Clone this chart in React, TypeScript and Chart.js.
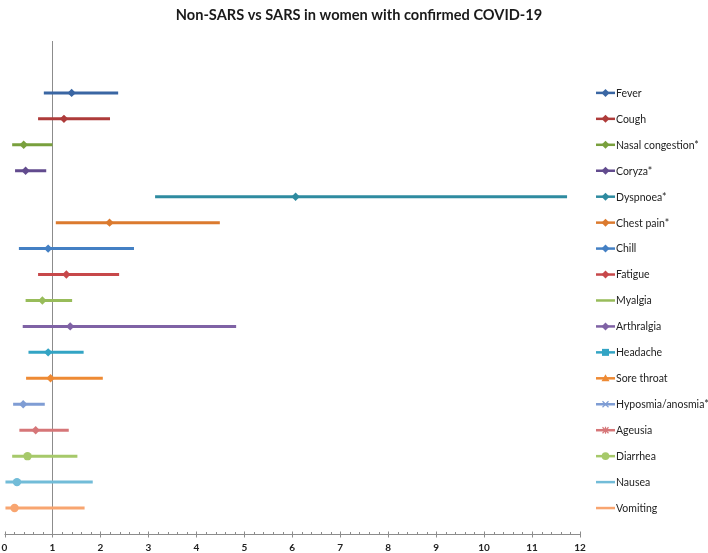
import React, { useEffect, useRef } from "react";
import { Chart, registerables } from "chart.js";

Chart.register(...registerables);

const symptoms = [
  "Fever", "Cough", "Nasal congestion*", "Coryza*", "Dyspnoea*", "Chest pain*", "Chill", "Fatigue",
  "Myalgia", "Arthralgia", "Headache", "Sore throat", "Hyposmia/anosmia*", "Ageusia", "Diarrhea", "Nausea", "Vomiting",
];
const estimates = [1.4, 1.24, 0.4, 0.44, 6.07, 2.19, 0.91, 1.29, 0.79, 1.37, 0.91, 0.96, 0.39, 0.65, 0.48, 0.26, 0.21];
const lower = [0.82, 0.7, 0.16, 0.22, 3.14, 1.07, 0.3, 0.7, 0.44, 0.38, 0.5, 0.45, 0.18, 0.31, 0.16, 0.02, 0.02];
const upper = [2.37, 2.2, 1.0, 0.87, 11.73, 4.49, 2.7, 2.39, 1.41, 4.83, 1.65, 2.05, 0.84, 1.34, 1.52, 1.84, 1.67];
const rowPos = [17, 16, 15, 14, 13, 12, 11, 10, 9, 8, 7, 6, 5, 4, 3, 2, 1];
const colors = [
  "#3A66A3", "#AE3B3A", "#79A03D", "#624B8E", "#2E8BA0", "#DB7A2E", "#4480C4", "#C7484A",
  "#98BC5A", "#7F62A5", "#33A4C4", "#EE8A34", "#7F9DD4", "#D67678", "#A6C96A", "#72BCD8", "#F8A570",
];
const legendMarkers = [
  "diamond", "diamond", "diamond", "diamond", "diamond", "diamond", "diamond", "diamond",
  "none", "diamond", "square", "triangle", "x", "star", "circle", "none", "none",
];
const xTicks = [0, 1, 2, 3, 4, 5, 6, 7, 8, 9, 10, 11, 12];
const title = "Non-SARS vs SARS in women with confirmed COVID-19";

function drawMarker(ctx: CanvasRenderingContext2D, kind: string, x: number, y: number, color: string) {
  ctx.save();
  ctx.fillStyle = color;
  ctx.strokeStyle = color;
  ctx.lineWidth = 1.2;
  ctx.beginPath();
  if (kind === "diamond") {
    ctx.moveTo(x, y - 4); ctx.lineTo(x + 4, y); ctx.lineTo(x, y + 4); ctx.lineTo(x - 4, y); ctx.closePath(); ctx.fill();
  } else if (kind === "square") {
    ctx.rect(x - 3.5, y - 3.5, 7, 7); ctx.fill();
  } else if (kind === "triangle") {
    ctx.moveTo(x, y - 4); ctx.lineTo(x + 4, y + 3); ctx.lineTo(x - 4, y + 3); ctx.closePath(); ctx.fill();
  } else if (kind === "x") {
    ctx.moveTo(x - 3, y - 3); ctx.lineTo(x + 3, y + 3); ctx.moveTo(x + 3, y - 3); ctx.lineTo(x - 3, y + 3); ctx.stroke();
  } else if (kind === "star") {
    ctx.moveTo(x - 3, y - 3); ctx.lineTo(x + 3, y + 3); ctx.moveTo(x + 3, y - 3); ctx.lineTo(x - 3, y + 3);
    ctx.moveTo(x, y - 3.5); ctx.lineTo(x, y + 3.5); ctx.stroke();
  } else if (kind === "circle") {
    ctx.arc(x, y, 3.8, 0, Math.PI * 2); ctx.fill();
  }
  ctx.restore();
}

const decorPlugin = {
  id: "decor",
  beforeDatasetsDraw(chart: any) {
    const ctx = chart.ctx as CanvasRenderingContext2D;
    const xs = chart.scales.x;
    const area = chart.chartArea;
    ctx.save();
    const x1 = xs.getPixelForValue(1);
    ctx.strokeStyle = "#8c8c8c";
    ctx.lineWidth = 1;
    ctx.beginPath();
    ctx.moveTo(Math.round(x1) + 0.5, area.top);
    ctx.lineTo(Math.round(x1) + 0.5, area.bottom);
    ctx.stroke();
    const yb = Math.round(area.bottom) + 0.5;
    ctx.beginPath();
    ctx.moveTo(xs.getPixelForValue(0), yb);
    ctx.lineTo(xs.getPixelForValue(12), yb);
    ctx.stroke();
    for (let i = 0; i <= 60; i++) {
      const v = i / 5;
      const px = Math.round(xs.getPixelForValue(v)) + 0.5;
      ctx.beginPath();
      if (i % 5 === 0) {
        ctx.moveTo(px, yb - 3);
        ctx.lineTo(px, yb + 3);
      } else {
        ctx.moveTo(px, yb - 2.5);
        ctx.lineTo(px, yb);
      }
      ctx.stroke();
    }
    ctx.restore();
  },
  afterDraw(chart: any) {
    const ctx = chart.ctx as CanvasRenderingContext2D;
    const ys = chart.scales.y;
    ctx.save();
    ctx.fillStyle = "#1a1a1a";
    ctx.font = "bold 14.6px Lato";
    ctx.textAlign = "center";
    ctx.textBaseline = "middle";
    ctx.fillText(title, 359, 15);
    ctx.font = "10.5px Lato";
    ctx.textAlign = "left";
    symptoms.forEach((name, i) => {
      const y = ys.getPixelForValue(rowPos[i]);
      ctx.strokeStyle = colors[i];
      ctx.lineWidth = 2.5;
      ctx.beginPath();
      ctx.moveTo(596, y);
      ctx.lineTo(615, y);
      ctx.stroke();
      drawMarker(ctx, legendMarkers[i], 605.5, y, colors[i]);
      ctx.fillStyle = "#222";
      ctx.fillText(name, 616, y + 0.5);
    });
    ctx.restore();
  },
};

export default function App() {
  const ref = useRef<HTMLCanvasElement>(null);
  useEffect(() => {
    if (!ref.current) return;
    const datasets = symptoms.map((name, i) => ({
      label: name,
      data: [
        { x: lower[i], y: rowPos[i] },
        { x: estimates[i], y: rowPos[i] },
        { x: upper[i], y: rowPos[i] },
      ],
      borderColor: colors[i],
      backgroundColor: colors[i],
      borderWidth: 3,
      pointRadius: [0, 4.2, 0],
      pointStyle: i < 14 ? "rectRot" : "circle",
      pointBorderWidth: 0,
      pointBackgroundColor: colors[i],
      showLine: true,
      fill: false,
      tension: 0,
    }));
    const chart = new Chart(ref.current, {
      type: "scatter",
      data: { datasets },
      options: {
        animation: false,
        responsive: false,
        devicePixelRatio: 1,
        layout: { padding: { left: 4.5, right: 128, top: 41, bottom: 0 } },
        plugins: { legend: { display: false }, title: { display: false }, tooltip: { enabled: false } },
        scales: {
          x: {
            type: "linear",
            min: 0,
            max: 12,
            afterBuildTicks: (axis: any) => {
              axis.ticks = xTicks.map((v) => ({ value: v }));
            },
            afterFit: (axis: any) => {
              axis.height = 19;
              axis.paddingLeft = 0;
              axis.paddingRight = 0;
            },
            ticks: { font: { family: "Lato", size: 10, weight: "bold" }, color: "#222", padding: 8, maxRotation: 0 },
            grid: { display: false, drawTicks: false },
            border: { display: false },
          },
          y: { type: "linear", min: 0, max: 19, display: false },
        },
      },
      plugins: [decorPlugin],
    });
    return () => chart.destroy();
  }, []);
  return (
    <div style={{ position: "fixed", left: 0, top: 0, width: 708, height: 553, background: "#fff" }}>
      <canvas ref={ref} width={708} height={553} style={{ width: 708, height: 553 }} />
    </div>
  );
}
